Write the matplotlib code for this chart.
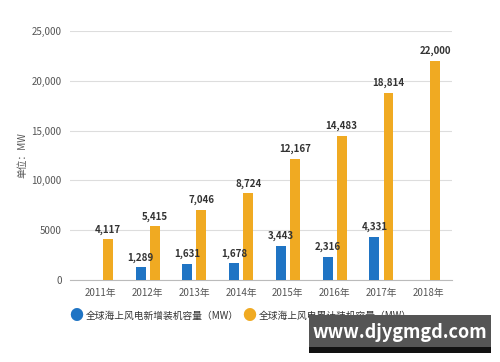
import matplotlib.pyplot as plt
import matplotlib.patches as patches
import numpy as np

plt.rcParams["font.family"] = ["Noto Sans CJK SC", "DejaVu Sans"]

years = ["2011年", "2012年", "2013年", "2014年", "2015年", "2016年", "2017年", "2018年"]
new_cap = [None, 1289, 1631, 1678, 3443, 2316, 4331, None]
total_cap = [4117, 5415, 7046, 8724, 12167, 14483, 18814, 22000]
yticks = [0, 5000, 10000, 15000, 20000, 25000]
ytick_labels = ["0", "5000", "10,000", "15,000", "20,000", "25,000"]
legend_names = ["全球海上风电新增装机容量（MW）", "全球海上风电累计装机容量（MW）"]

BLUE = "#1f74c4"
ORANGE = "#f0aa22"
GRID = "#dddddd"
LABEL = "#333333"
TICK = "#555555"

fig = plt.figure(figsize=(5.0, 3.62), dpi=100)
ax = fig.add_axes([0.14, 0.2265, 0.764, 0.688])

x = np.arange(len(years))
w = 0.21
off = 0.15
for i, v in enumerate(new_cap):
    if v is None:
        continue
    ax.bar(x[i] - off, v, width=w, color=BLUE, zorder=3)
    ax.text(x[i] - off, v + 450, f"{v:,}", ha="center", va="bottom",
            fontsize=7, fontweight="bold", color=LABEL, zorder=4)
for i, v in enumerate(total_cap):
    ax.bar(x[i] + off, v, width=w, color=ORANGE, zorder=3)
    ax.text(x[i] + off, v + 450, f"{v:,}", ha="center", va="bottom",
            fontsize=7, fontweight="bold", color=LABEL, zorder=4)

ax.set_xlim(-0.66, 7.51)
ax.set_ylim(0, 25000)
ax.set_yticks(yticks)
ax.set_yticklabels(ytick_labels, fontsize=7, color=TICK)
ax.set_xticks(x)
ax.set_xticklabels(years, fontsize=7, color=TICK)
ax.tick_params(length=0, pad=6)
ax.grid(axis="y", color=GRID, lw=0.8, zorder=0)
for s in ["top", "right", "left"]:
    ax.spines[s].set_visible(False)
ax.spines["bottom"].set_color("#bbbbbb")
ax.set_ylabel("单位：MW", fontsize=7, color=TICK, labelpad=3)

# legend
fig.text(0.152, 0.127, "●", color=BLUE, fontsize=10, ha="center", va="center")
fig.text(0.172, 0.127, legend_names[0], fontsize=7, color=LABEL, ha="left", va="center")
fig.text(0.498, 0.127, "●", color=ORANGE, fontsize=10, ha="center", va="center")
fig.text(0.518, 0.127, legend_names[1], fontsize=7, color=LABEL, ha="left", va="center")

# site watermark overlay
fig.patches.append(patches.Rectangle((0.618, 0.025), 0.364, 0.105, transform=fig.transFigure,
                                     facecolor="#555555", edgecolor="none", zorder=5))
fig.patches.append(patches.Rectangle((0.618, 0.025), 0.364, 0.017, transform=fig.transFigure,
                                     facecolor="#111111", edgecolor="none", zorder=6))
fig.text(0.80, 0.082, "www.djygmgd.com", color="white", fontsize=13, fontweight="bold",
         ha="center", va="center", zorder=7)

fig.savefig("out.png", dpi=100)
